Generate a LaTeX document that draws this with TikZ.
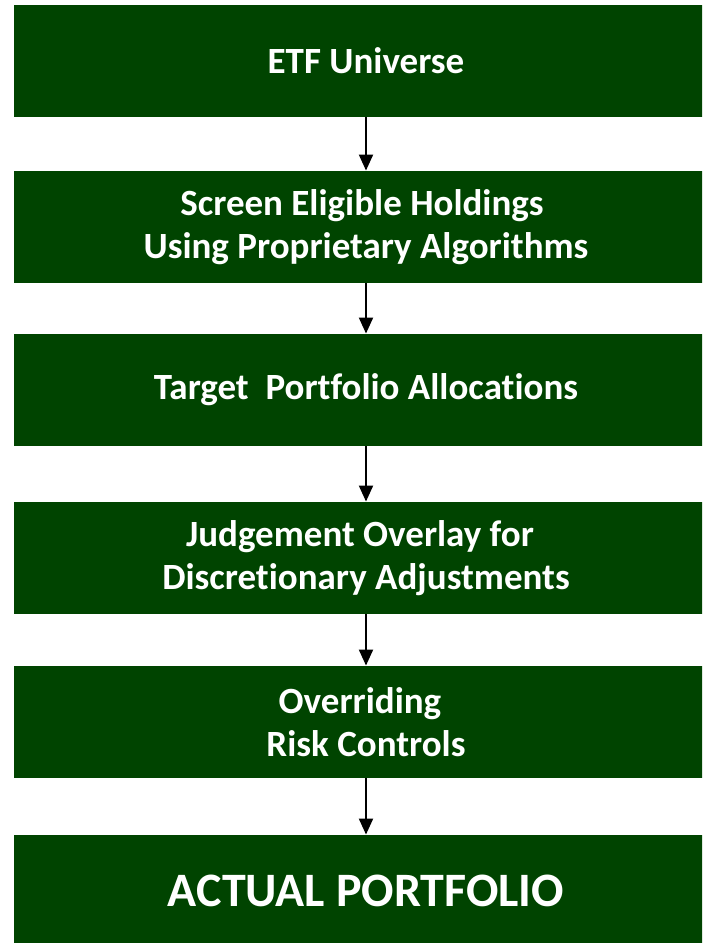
\documentclass[tikz,border=0pt]{standalone}
\usepackage{fontspec}
\setmainfont{Carlito}[Ligatures=NoCommon]
\usetikzlibrary{arrows.meta}
\definecolor{boxgreen}{RGB}{0,68,0}
\tikzset{
  stepbox/.style={fill=boxgreen, draw=none, text=white, font=\bfseries\fontsize{37}{43.5}\selectfont,
    minimum width=704pt, minimum height=112.5pt, inner sep=0pt, align=center, anchor=center},
  bigbox/.style={stepbox, font=\bfseries\fontsize{48}{56}\selectfont},
  flow/.style={line width=2pt, -{Triangle[width=14pt,length=16pt]}, shorten >=0pt}
}
\begin{document}
\begin{tikzpicture}[x=1pt,y=-1pt]
\clip (0,0) rectangle (702,943);
\node[stepbox] (n1) at (366,61) {ETF Universe};
\node[stepbox] (n2) at (366,227) {Screen Eligible Holdings\hspace*{8pt}\\Using Proprietary Algorithms};
\node[stepbox] (n3) at (366,390) {Target\ \ Portfolio Allocations};
\node[stepbox] (n4) at (366,558) {Judgement Overlay for\hspace*{12pt}\\Discretionary Adjustments};
\node[stepbox] (n5) at (366,722) {Overriding\hspace*{12pt}\\Risk Controls};
\node[bigbox] (n6) at (366,891) {ACTUAL PORTFOLIO};
\draw[flow] (n1) -- (n2);
\draw[flow] (n2) -- (n3);
\draw[flow] (n3) -- (n4);
\draw[flow] (n4) -- (n5);
\draw[flow] (n5) -- (n6);
\end{tikzpicture}
\end{document}
